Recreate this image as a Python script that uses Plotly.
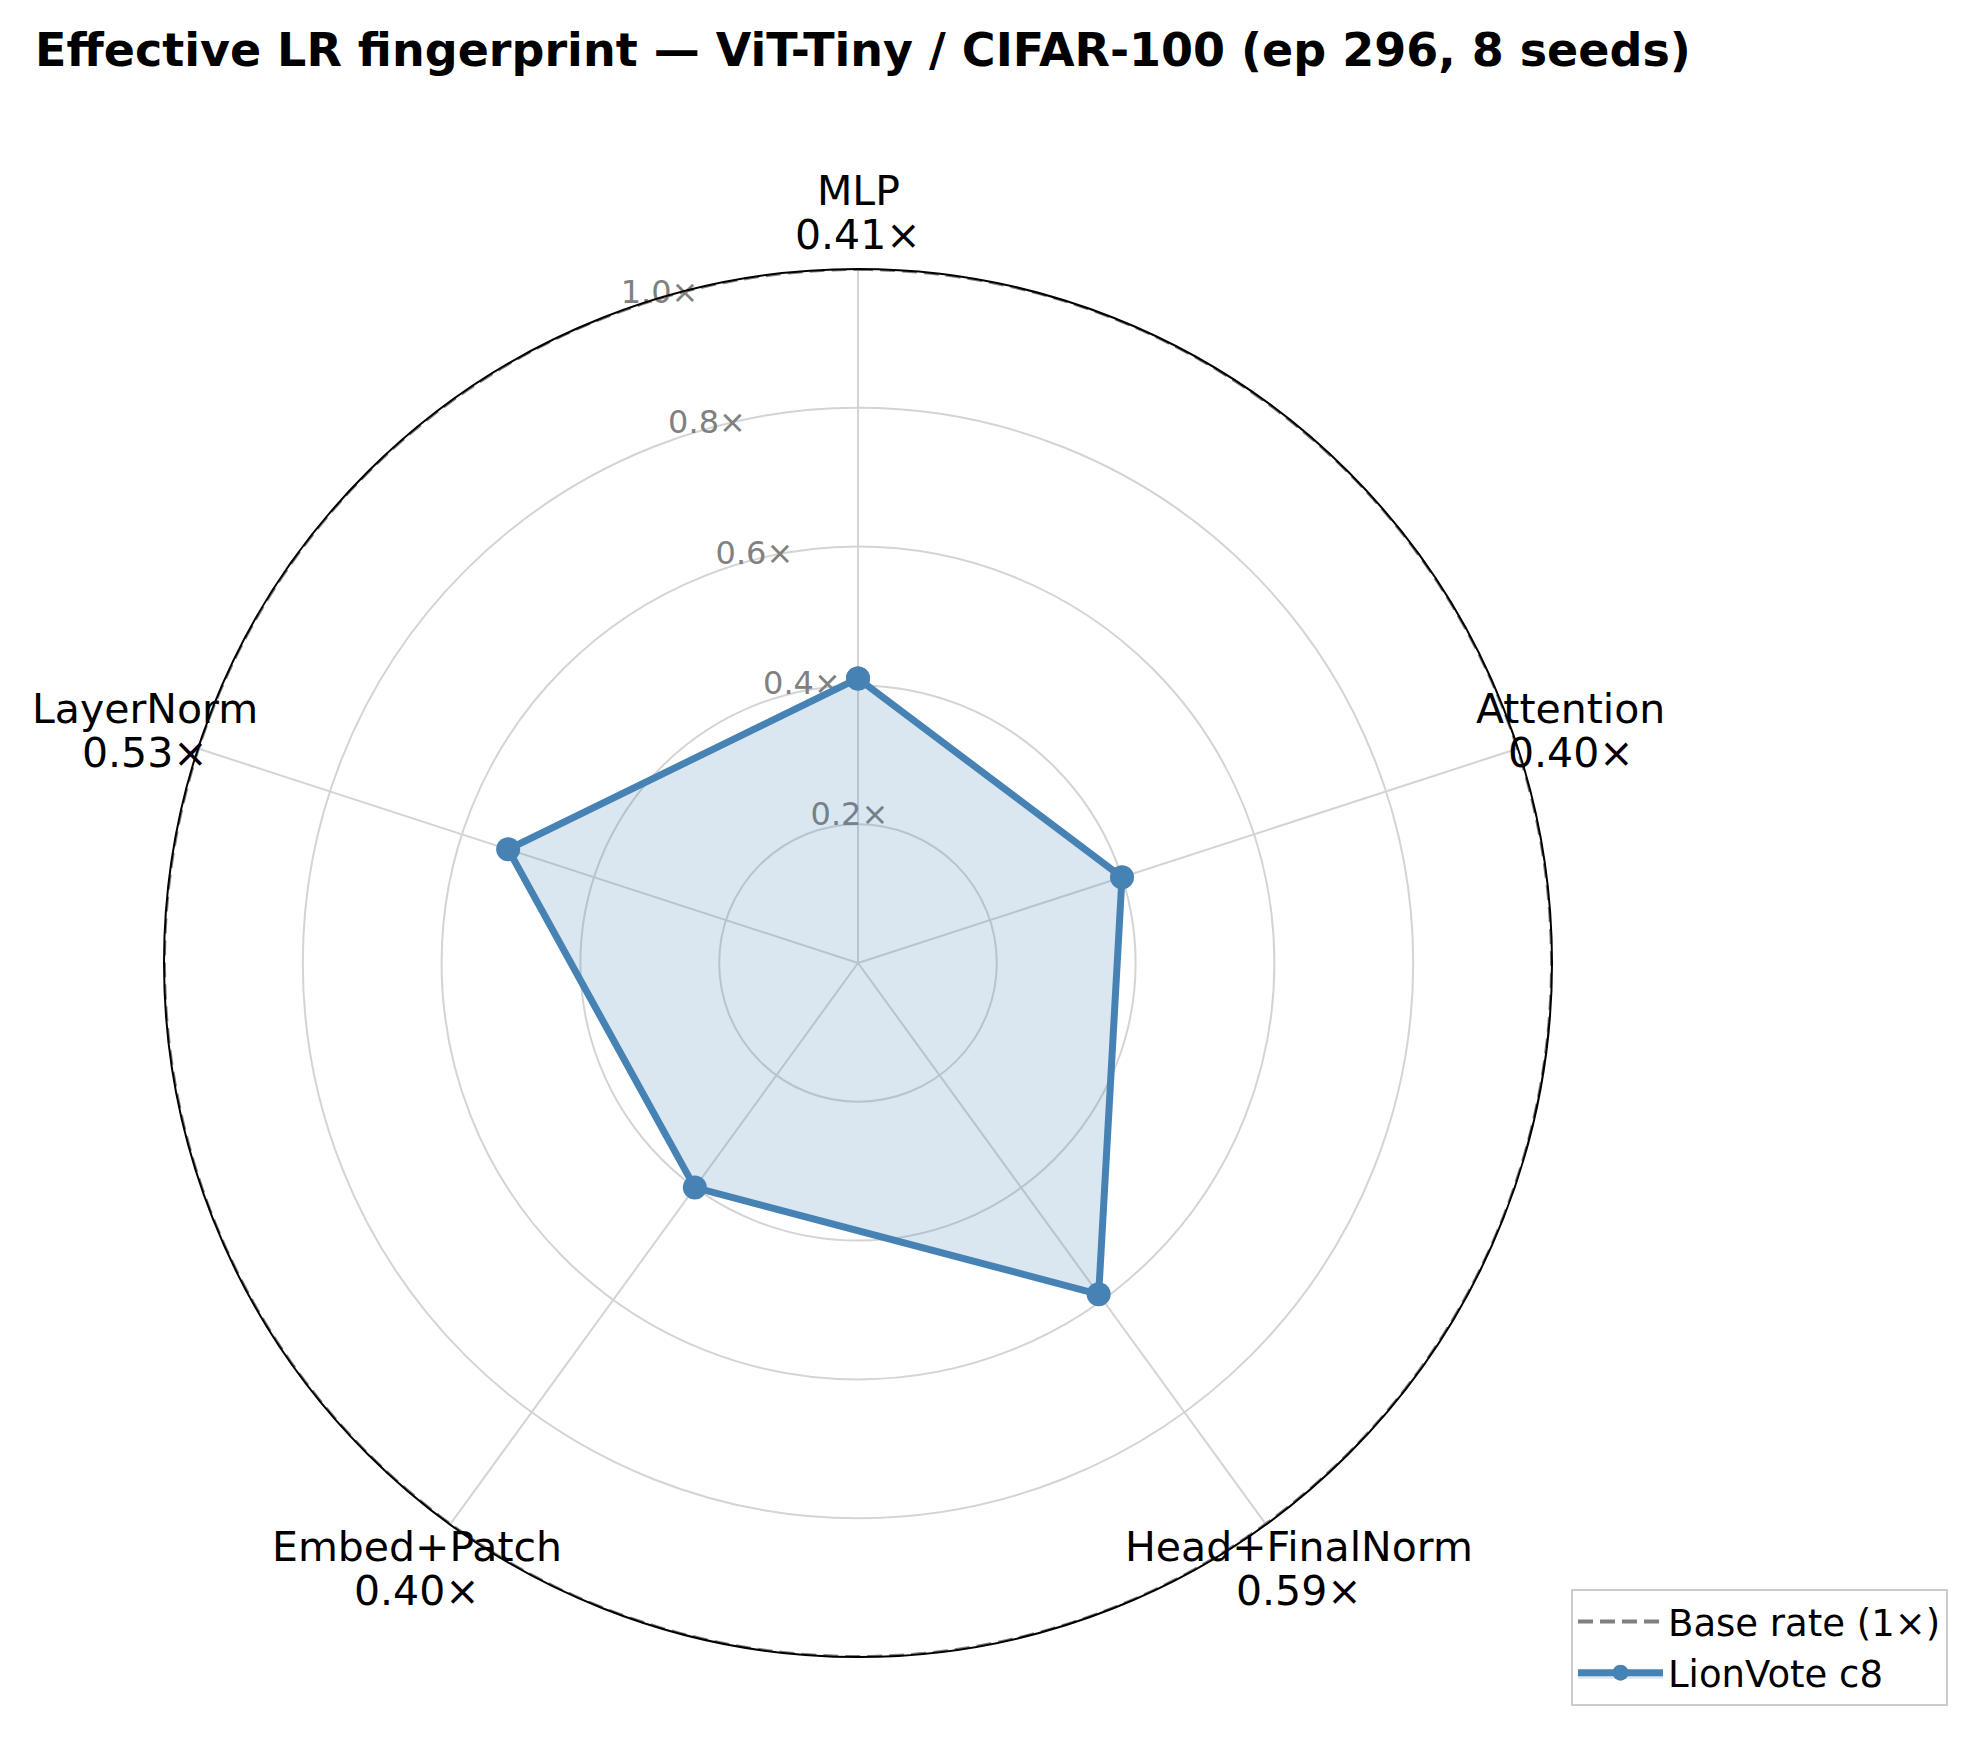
import plotly.graph_objects as go
import numpy as np

# ---- data ----
categories = ["MLP", "Attention", "Head+FinalNorm", "Embed+Patch", "LayerNorm"]
lionvote_c8 = [0.41, 0.40, 0.59, 0.40, 0.53]
base_rate = 1.0
radial_ticks = [0.2, 0.4, 0.6, 0.8, 1.0]
radial_ticktext = ["0.2×", "0.4×", "0.6×", "0.8×", "1.0×"]
title_text = "Effective LR fingerprint — ViT-Tiny / CIFAR-100 (ep 296, 8 seeds)"

FONT = "DejaVu Sans"
W, H = 1979, 1737

n = len(categories)
theta_cat = [i * 360.0 / n for i in range(n)]
value_labels = [f"{v:.2f}×" for v in lionvote_c8]

# base-rate circle (constant reference ring)
theta_ring = np.linspace(0, 360, 361)
r_ring = [base_rate] * len(theta_ring)

RLABEL_THETA = 340  # radial tick labels sit 20 deg left of the top spoke

fig = go.Figure()

# radial tick labels (drawn first so data sits on top of them)
fig.add_trace(go.Scatterpolar(
    r=radial_ticks, theta=[RLABEL_THETA] * len(radial_ticks),
    mode="text", text=radial_ticktext, textposition="top right",
    textfont=dict(family=FONT, size=32, color="#808080"),
    showlegend=False, hoverinfo="skip", cliponaxis=False,
))

fig.add_trace(go.Scatterpolar(
    r=r_ring, theta=theta_ring, mode="lines",
    line=dict(color="#808080", width=4, dash="15px,7px"),
    name="Base rate (1×)", hoverinfo="skip", cliponaxis=False,
))

fig.add_trace(go.Scatterpolar(
    r=lionvote_c8 + [lionvote_c8[0]],
    theta=theta_cat + [theta_cat[0]],
    mode="lines+markers",
    line=dict(color="#4682B4", width=7),
    marker=dict(color="#4682B4", size=24),
    fill="toself", fillcolor="rgba(70,130,180,0.2)",
    name="LionVote c8",
))

cx, cy, R = 858, 963, 694
label_r = 1.08
half_gap = 22
annotations = []
for th, name, val in zip(theta_cat, categories, value_labels):
    a = np.deg2rad(90 - th)  # clockwise from top
    px = cx + label_r * R * np.cos(a)
    py = cy - label_r * R * np.sin(a)
    for txt, dy in ((name, -half_gap), (val, half_gap)):
        annotations.append(dict(
            text=txt, x=px / W, y=1 - (py + dy) / H, xref="paper", yref="paper",
            xanchor="center", yanchor="middle", showarrow=False,
            font=dict(family=FONT, size=41, color="black"),
        ))

fig.update_layout(
    width=W, height=H,
    margin=dict(l=0, r=0, t=0, b=0),
    paper_bgcolor="white",
    font=dict(family=FONT, color="black"),
    title=dict(text="<b>" + title_text + "</b>", x=35 / W, xanchor="left",
               y=1 - 50 / H, yanchor="middle",
               font=dict(family=FONT, size=46, color="black")),
    annotations=annotations,
    polar=dict(
        domain=dict(x=[(cx - R) / W, (cx + R) / W],
                    y=[1 - (cy + R) / H, 1 - (cy - R) / H]),
        bgcolor="white",
        angularaxis=dict(
            rotation=90, direction="clockwise",
            tickmode="array", tickvals=theta_cat, ticktext=categories,
            showticklabels=False,
            showline=True, linecolor="black", linewidth=2,
            gridcolor="#d4d4d4", gridwidth=2, ticks="",
        ),
        radialaxis=dict(
            range=[0, 1.0], tickmode="array", tickvals=radial_ticks,
            showticklabels=False,
            showline=False, ticks="", gridcolor="#d4d4d4", gridwidth=2,
            layer="below traces",
        ),
    ),
    legend=dict(
        x=1948 / W, y=(H - 1706) / H, xanchor="right", yanchor="bottom",
        bgcolor="white", bordercolor="#cccccc", borderwidth=2,
        font=dict(family=FONT, size=37, color="black"),
        itemwidth=85,
    ),
    showlegend=True,
)

fig.write_html("out.html")
